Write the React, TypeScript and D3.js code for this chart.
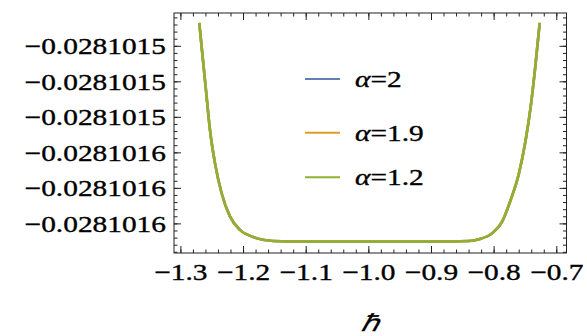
import * as d3 from "d3";

// h-bar values (x)
const hbar = [
  -1.2707, -1.2643, -1.259, -1.2536, -1.2456, -1.2351, -1.2217, -1.2057, -1.1845, -1.1526,
  -1.1, -1.0, -0.9,
  -0.84, -0.824, -0.8029, -0.787, -0.7735, -0.7603, -0.7496, -0.7416, -0.7337, -0.7273,
];
// energies — the three alpha curves overlap completely
const energyA2 = [
  -0.0281015134, -0.0281015247, -0.0281015341, -0.0281015435, -0.0281015529, -0.0281015613,
  -0.0281015679, -0.0281015717, -0.0281015737, -0.0281015748,
  -0.028101575, -0.028101575, -0.028101575,
  -0.0281015748, -0.0281015743, -0.0281015726, -0.0281015693, -0.0281015632, -0.0281015557,
  -0.0281015463, -0.0281015369, -0.0281015247, -0.0281015134,
];
const energyA19 = [...energyA2];
const energyA12 = [...energyA2];

const seriesNames = ["α=2", "α=1.9", "α=1.2"];
const seriesColors = ["#5E81B5", "#E19C24", "#8FB032"];
const seriesValues = [energyA2, energyA19, energyA12];

const xTicks = [-1.3, -1.2, -1.1, -1.0, -0.9, -0.8, -0.7];
const xTickLabels = ["−1.3", "−1.2", "−1.1", "−1.0", "−0.9", "−0.8", "−0.7"];
const yTicks = [-0.02810152, -0.02810153, -0.02810154, -0.02810155, -0.02810156, -0.02810157];
const yTickLabels = ["−0.0281015", "−0.0281015", "−0.0281015", "−0.0281016", "−0.0281016", "−0.0281016"];

const W = 587, H = 336;
const L = 174, R = 566.5, T = 13, B = 253;
const FONT = "Liberation Serif";
const FS = 23.5;
const SX = 1.25;

export default function App() {
  const x = d3.scaleLinear().domain([-1.311, -0.6845]).range([L, R]);
  const y = d3.scaleLinear().domain([-0.0281015782, -0.02810151062]).range([B, T]);

  const line = d3.line<[number, number]>()
    .x(d => x(d[0])).y(d => y(d[1]))
    .curve(d3.curveMonotoneX);

  const xMinor = d3.range(-1.30, -0.68, 0.02).filter(v => v > -1.311 && v < -0.6845);
  const yStep = (yTicks[0] - yTicks[1]) / 5;
  const yMinor: number[] = [];
  for (let i = -5; i <= 35; i++) {
    const v = yTicks[0] - i * yStep;
    if (v < -0.02810151062 && v > -0.0281015782) yMinor.push(v);
  }

  const legendY = [79, 132.7, 177.3];
  const txt = { fontFamily: FONT, fontSize: FS };
  // slight outline so the small serif glyphs read as heavy as the reference
  const ink = { fill: "#000", stroke: "#000", strokeWidth: 0.35 };

  return (
    <svg width={W} height={H} style={{ position: "absolute", left: 0, top: 0 }}>
      <rect width={W} height={H} fill="white" />
      {/* curves */}
      {seriesValues.map((vals, i) => (
        <path key={i} d={line(hbar.map((h, j) => [h, vals[j]] as [number, number])) || ""}
          fill="none" stroke={seriesColors[i]} strokeWidth={2.6} />
      ))}
      {/* frame */}
      <rect x={L} y={T} width={R - L} height={B - T} fill="none" stroke="#222" strokeWidth={1} />
      {/* minor ticks */}
      {xMinor.map((v, i) => (
        <g key={"xm" + i} stroke="#222" strokeWidth={1}>
          <line x1={x(v)} x2={x(v)} y1={B} y2={B - 3.5} />
          <line x1={x(v)} x2={x(v)} y1={T} y2={T + 3.5} />
        </g>
      ))}
      {yMinor.map((v, i) => (
        <g key={"ym" + i} stroke="#222" strokeWidth={1}>
          <line x1={L} x2={L + 3.5} y1={y(v)} y2={y(v)} />
          <line x1={R} x2={R - 3.5} y1={y(v)} y2={y(v)} />
        </g>
      ))}
      {/* major ticks + labels */}
      {xTicks.map((v, i) => (
        <g key={"xt" + i}>
          <line x1={x(v)} x2={x(v)} y1={B} y2={B - 7} stroke="#222" />
          <line x1={x(v)} x2={x(v)} y1={T} y2={T + 7} stroke="#222" />
          <text transform={`translate(${x(v)},${280}) scale(${SX},1)`} textAnchor="middle"
            style={txt} {...ink}>{xTickLabels[i]}</text>
        </g>
      ))}
      {yTicks.map((v, i) => (
        <g key={"yt" + i}>
          <line x1={L} x2={L + 7} y1={y(v)} y2={y(v)} stroke="#222" />
          <line x1={R} x2={R - 7} y1={y(v)} y2={y(v)} stroke="#222" />
          <text transform={`translate(${166},${y(v) + 8}) scale(${SX},1)`} textAnchor="end"
            style={txt} {...ink}>{yTickLabels[i]}</text>
        </g>
      ))}
      {/* legend */}
      {seriesNames.map((n, i) => (
        <g key={"lg" + i}>
          <line x1={305} x2={340} y1={legendY[i]} y2={legendY[i]} stroke={seriesColors[i]} strokeWidth={2} />
          <text transform={`translate(355,${legendY[i] + 8}) scale(${SX},1)`}
            style={txt} {...ink}>
            <tspan fontStyle="italic">α</tspan>{n.slice(1)}
          </text>
        </g>
      ))}
      {/* axis label */}
      <text transform={`translate(370,331) scale(${SX},1)`} textAnchor="middle"
        style={{ ...txt, fontStyle: "italic" }} {...ink}>ℏ</text>
    </svg>
  );
}
